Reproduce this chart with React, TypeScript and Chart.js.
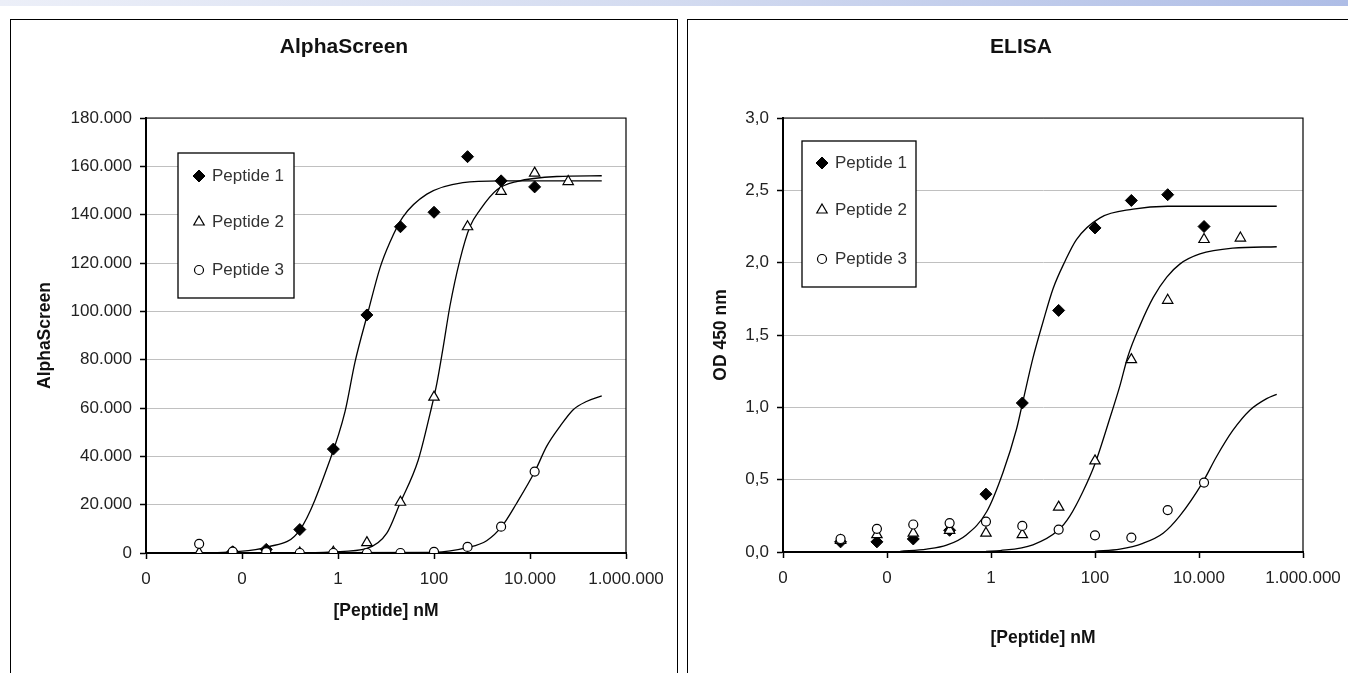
import React, { useEffect, useRef } from 'react';
import { Chart, registerables } from 'chart.js';
import { drawPoint } from 'chart.js/helpers';

Chart.register(...registerables);

// ---------- data ----------
const doses = [0.00128, 0.0064, 0.032, 0.16, 0.8, 4, 20, 100, 500, 2500, 12500, 62500];
const seriesNames = ['Peptide 1', 'Peptide 2', 'Peptide 3'];

const xTickValues = [0.0001, 0.01, 1, 100, 10000, 1000000];
const xTickLabels = ['0', '0', '1', '100', '10.000', '1.000.000'];

// AlphaScreen measured points
const alphaPeptide1 = [null, 500, 1500, 9700, 43000, 98500, 135000, 141000, 164000, 154000, 151500, null];
const alphaPeptide2 = [0, 0, 0, 0, 300, 4300, 21000, 64500, 135000, 149600, 157200, 153700];
const alphaPeptide3 = [3800, 600, 400, 0, 0, 0, 0, 500, 2500, 10900, 33700, null];

// AlphaScreen fitted curves [nM, signal]
const alphaFit1: [number, number][] = [[0.00128, 100], [0.0064, 500], [0.033, 2400], [0.16, 9500], [0.68, 38500], [1.4, 58500], [2.26, 79000], [4.2, 99500], [7.5, 118000], [12, 128500], [22.4, 139000], [71, 148500], [400, 153300], [2370, 154000], [312500, 154000]];
const alphaFit2: [number, number][] = [[0.00128, 0], [0.16, 100], [0.8, 500], [4, 1900], [10.4, 8200], [19.6, 20600], [47, 38500], [83, 57800], [115, 70300], [156, 85400], [214, 102000], [347, 121300], [562, 135100], [909, 142000], [2050, 150300], [5270, 153700], [36300, 155800], [312500, 156100]];
const alphaFit3: [number, number][] = [[0.00128, 0], [100, 300], [512, 2300], [1250, 5100], [2570, 10900], [5270, 20600], [12600, 33700], [22200, 44100], [42200, 52400], [79400, 59300], [150000, 62700], [312500, 65000]];

// ELISA measured points
const elisaPeptide1 = [0.07, 0.07, 0.09, 0.15, 0.40, 1.03, 1.67, 2.24, 2.43, 2.47, 2.25, null];
const elisaPeptide2 = [0.08, 0.12, 0.13, 0.15, 0.13, 0.12, 0.31, 0.63, 1.33, 1.74, 2.16, 2.17];
const elisaPeptide3 = [0.09, 0.16, 0.19, 0.20, 0.21, 0.18, 0.155, 0.115, 0.10, 0.29, 0.48, null];

// ELISA fitted curves [nM, OD]
const elisaFit1: [number, number][] = [[0.018, 0.005], [0.058, 0.02], [0.14, 0.047], [0.34, 0.12], [0.83, 0.28], [1.7, 0.55], [3.1, 0.85], [4.1, 1.04], [6.4, 1.34], [10, 1.59], [15.6, 1.82], [26.5, 2.01], [44, 2.16], [125, 2.31], [540, 2.37], [2500, 2.39], [312500, 2.39]];
const elisaFit2: [number, number][] = [[0.8, 0.005], [1.5, 0.01], [6.4, 0.05], [19.6, 0.15], [33, 0.25], [59, 0.42], [100, 0.61], [195, 0.93], [302, 1.15], [427, 1.35], [741, 1.57], [1320, 1.76], [2400, 1.9], [4270, 1.99], [10400, 2.06], [44700, 2.1], [312500, 2.11]];
const elisaFit3: [number, number][] = [[100, 0.005], [302, 0.02], [832, 0.06], [2040, 0.13], [4270, 0.25], [11700, 0.48], [21800, 0.66], [44700, 0.84], [95000, 0.98], [200000, 1.06], [312500, 1.09]];

// ---------- styles ----------
const FONT = "'Liberation Sans', Arial, sans-serif";
const markerLook = [
  { style: 'rectRot', radius: 6, fill: '#000', width: 1 },
  { style: 'triangle', radius: 6, fill: '#fff', width: 1.2 },
  { style: 'circle', radius: 4.5, fill: '#fff', width: 1.2 },
];

const fmtThousands = (v: number) => String(Math.round(v)).replace(/\B(?=(\d{3})+(?!\d))/g, '.');
const fmtComma = (v: number) => v.toFixed(1).replace('.', ',');

function framePlugin() {
  return {
    id: 'frame',
    beforeDatasetsDraw(chart: any) {
      const { ctx, chartArea: a } = chart;
      ctx.save();
      ctx.strokeStyle = '#000';
      ctx.lineWidth = 1.2;
      ctx.beginPath();
      ctx.moveTo(a.left, a.top);
      ctx.lineTo(a.right, a.top);
      ctx.lineTo(a.right, a.bottom);
      ctx.stroke();
      ctx.restore();
    },
  };
}

function boxLegendPlugin(o: any) {
  return {
    id: 'boxLegend',
    afterDraw(chart: any) {
      const { ctx, chartArea: a } = chart;
      const x0 = a.left + o.dx;
      const y0 = a.top + o.dy;
      ctx.save();
      ctx.fillStyle = '#fff';
      ctx.fillRect(x0, y0, o.w, o.h);
      ctx.strokeStyle = '#000';
      ctx.lineWidth = 1.3;
      ctx.strokeRect(x0, y0, o.w, o.h);
      o.rows.forEach((ry: number, i: number) => {
        const m = markerLook[i];
        ctx.fillStyle = m.fill;
        ctx.strokeStyle = '#000';
        ctx.lineWidth = m.width;
        drawPoint(ctx, { pointStyle: m.style, radius: m.radius, borderWidth: m.width, rotation: 0 } as any, x0 + o.markerX, y0 + ry);
        ctx.fillStyle = '#333';
        ctx.font = `17px ${FONT}`;
        ctx.textBaseline = 'middle';
        ctx.textAlign = 'left';
        ctx.fillText(seriesNames[i], x0 + o.textX, y0 + ry);
      });
      ctx.restore();
    },
  };
}

function buildConfig(spec: any) {
  const pts = [spec.p1, spec.p2, spec.p3].map((vals: (number | null)[], i: number) => ({
    label: seriesNames[i],
    data: doses.map((x, j) => ({ x, y: vals[j] })).filter((p) => p.y !== null),
    showLine: false,
    pointStyle: markerLook[i].style,
    pointRadius: markerLook[i].radius,
    pointHoverRadius: markerLook[i].radius,
    pointBackgroundColor: markerLook[i].fill,
    pointBorderColor: '#000',
    pointBorderWidth: markerLook[i].width,
    order: 3 - i,
    yAxisID: 'y',
  }));
  const fits = [spec.f1, spec.f2, spec.f3].map((f: [number, number][], i: number) => ({
    label: 'fit ' + (i + 1),
    data: f.map(([x, y]) => ({ x, y })),
    showLine: true,
    pointRadius: 0,
    pointHoverRadius: 0,
    borderColor: '#000',
    borderWidth: 1.3,
    cubicInterpolationMode: 'monotone',
    fill: false,
    order: 10,
    yAxisID: 'y',
  }));
  const tickFont = { family: FONT, size: 17 };
  const axisTitleFont = { family: FONT, size: 17.5, weight: 'bold' };
  return {
    type: 'scatter',
    data: { datasets: [...pts, ...fits] },
    options: {
      responsive: false,
      animation: false,
      events: [],
      layout: { padding: 0 },
      plugins: {
        legend: { display: false },
        tooltip: { enabled: false },
        title: {
          display: true,
          text: spec.title,
          color: '#111',
          font: { family: FONT, size: 21, weight: 'bold' },
          padding: { top: 15, bottom: 57.8 },
        },
      },
      scales: {
        x: {
          type: 'logarithmic',
          min: 1e-4,
          max: 1e6,
          afterBuildTicks: (s: any) => {
            s.ticks = xTickValues.map((v) => ({ value: v }));
          },
          afterFit: (s: any) => {
            s.height = spec.xAxisHeight;
          },
          ticks: {
            autoSkip: false,
            maxRotation: 0,
            padding: 10,
            color: '#222',
            font: tickFont,
            callback: (_v: any, i: number) => xTickLabels[i],
          },
          grid: { drawOnChartArea: false, drawTicks: true, tickLength: 6, tickColor: '#000', tickWidth: 1.5 },
          border: { display: true, color: '#000', width: 2 },
          title: {
            display: true,
            text: '[Peptide] nM',
            color: '#111',
            font: axisTitleFont,
            padding: { top: 0, bottom: spec.xTitlePadBottom },
          },
        },
        y: {
          type: 'linear',
          position: 'left',
          min: 0,
          max: spec.yMax,
          afterFit: (s: any) => {
            s.width = spec.yAxisWidth;
          },
          ticks: { stepSize: spec.yStep, padding: 8, color: '#222', font: tickFont, callback: spec.yFmt },
          grid: { color: '#c0c0c0', lineWidth: 1, drawTicks: true, tickLength: 6, tickColor: '#000', tickWidth: 1.5 },
          border: { display: true, color: '#000', width: 2 },
          title: {
            display: true,
            text: spec.yTitle,
            color: '#111',
            font: axisTitleFont,
            padding: { top: spec.yTitlePadTop, bottom: 0 },
          },
        },
        yR: {
          type: 'linear',
          axis: 'y',
          position: 'right',
          display: true,
          ticks: { display: false },
          grid: { display: false },
          border: { display: false },
          afterFit: (s: any) => {
            s.width = spec.rightWidth;
          },
        },
      },
    },
    plugins: [framePlugin(), boxLegendPlugin(spec.legend)],
  };
}

const alphaSpec = {
  title: 'AlphaScreen',
  yTitle: 'AlphaScreen',
  p1: alphaPeptide1,
  p2: alphaPeptide2,
  p3: alphaPeptide3,
  f1: alphaFit1,
  f2: alphaFit2,
  f3: alphaFit3,
  yMax: 180000,
  yStep: 20000,
  yFmt: (v: number) => fmtThousands(v),
  yAxisWidth: 135,
  rightWidth: 51,
  xAxisHeight: 120,
  xTitlePadBottom: 51.5,
  yTitlePadTop: 23.5,
  legend: { dx: 32, dy: 35, w: 116, h: 145, rows: [23, 69, 117], markerX: 21, textX: 34 },
};

const elisaSpec = {
  title: 'ELISA',
  yTitle: 'OD 450 nm',
  p1: elisaPeptide1,
  p2: elisaPeptide2,
  p3: elisaPeptide3,
  f1: elisaFit1,
  f2: elisaFit2,
  f3: elisaFit3,
  yMax: 3,
  yStep: 0.5,
  yFmt: (v: number) => fmtComma(v),
  yAxisWidth: 95,
  rightWidth: 51,
  xAxisHeight: 121,
  xTitlePadBottom: 24.5,
  yTitlePadTop: 22.5,
  legend: { dx: 19, dy: 23, w: 114, h: 146, rows: [22, 69, 118], markerX: 20, textX: 33 },
};

function Panel({ spec, left }: { spec: any; left: number }) {
  const ref = useRef<HTMLCanvasElement>(null);
  useEffect(() => {
    const chart = new Chart(ref.current as HTMLCanvasElement, buildConfig(spec) as any);
    return () => chart.destroy();
  }, [spec]);
  return (
    <div
      style={{
        position: 'absolute',
        left,
        top: 19,
        width: 668,
        height: 720,
        border: '1px solid #000',
        boxSizing: 'border-box',
        background: '#fff',
      }}
    >
      <canvas ref={ref} width={666} height={653} style={{ position: 'absolute', left: 0, top: 0, width: 666, height: 653 }} />
    </div>
  );
}

export default function App() {
  return (
    <div
      style={{
        position: 'fixed',
        left: 0,
        top: 0,
        width: 1348,
        height: 673,
        overflow: 'hidden',
        background: '#fff',
      }}
    >
      <div
        style={{
          position: 'absolute',
          left: 0,
          top: 0,
          width: 1348,
          height: 6,
          background: 'linear-gradient(90deg, #eceff8 0%, #d3dbf0 50%, #aebde6 100%)',
        }}
      />
      <Panel spec={alphaSpec} left={10} />
      <Panel spec={elisaSpec} left={687} />
    </div>
  );
}
